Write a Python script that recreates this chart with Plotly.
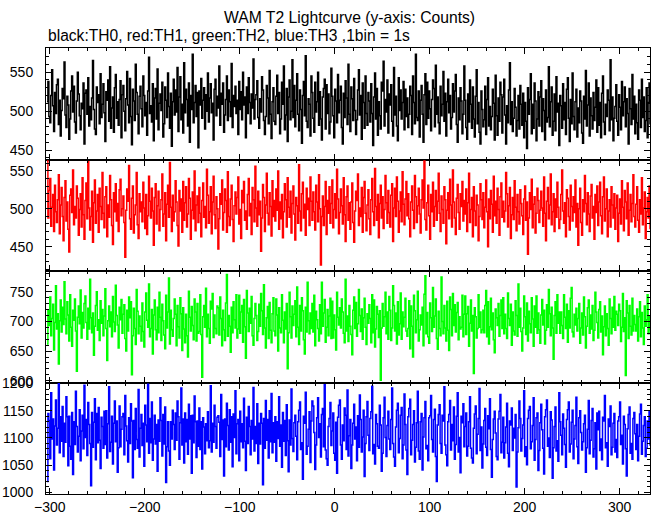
import plotly.graph_objects as go

# Bin start time (s) of the first bin; 1 bin = 1 s
time_start = -303

th0 = [512, 538, 493, 485, 520, 553, 507, 474, 524, 497, 534, 541, 483, 514, 468, 501, 529, 516, 563, 495,
       479, 519, 508, 464, 490, 526, 545, 499, 532, 486, 472, 513, 550, 522, 494, 476, 510, 503, 536, 458,
       523, 527, 496, 543, 481, 506, 489, 517, 565, 502, 477, 470, 531, 511, 521, 484, 548, 492, 509, 535,
       498, 461, 525, 514, 540, 487, 557, 478, 504, 518, 473, 530, 547, 491, 512, 482, 515, 539, 466, 521,
       533, 500, 475, 516, 551, 508, 485, 542, 493, 457, 528, 513, 488, 560, 524, 496, 471, 519, 532, 503,
       480, 545, 520, 494, 511, 469, 526, 569, 497, 507, 486, 535, 462, 517, 529, 490, 554, 476, 510, 522,
       501, 537, 467, 484, 531, 514, 492, 549, 506, 478, 523, 455, 512, 541, 495, 527, 499, 556, 474, 518,
       544, 489, 509, 472, 562, 498, 528, 515, 481, 536, 460, 520, 502, 573, 485, 511, 533, 493, 524, 453,
       526, 508, 542, 491, 514, 530, 477, 521, 500, 549, 486, 517, 535, 498, 510, 463, 528, 541, 494, 519,
       504, 558, 482, 523, 509, 536, 473, 495, 515, 545, 488, 527, 512, 493, 561, 479, 520, 506, 532, 497,
       514, 470, 538, 502, 525, 489, 550, 508, 518, 466, 531, 497, 543, 511, 484, 522, 504, 567, 490, 515,
       521, 539, 492, 478, 516, 499, 544, 527, 488, 470, 493, 533, 517, 484, 552, 496, 465, 512, 530, 487,
       483, 519, 546, 497, 524, 471, 490, 537, 509, 558, 476, 495, 529, 461, 518, 540, 489, 500, 566, 492,
       533, 480, 514, 548, 496, 475, 527, 502, 459, 520, 538, 494, 571, 487, 479, 516, 509, 468, 545, 524,
       491, 473, 537, 499, 512, 550, 482, 525, 490, 463, 518, 529, 541, 477, 534, 497, 522, 471, 486, 555,
       519, 494, 466, 528, 513, 485, 547, 498, 514, 532, 479, 458, 523, 492, 539, 517, 483, 560, 496, 474,
       531, 516, 488, 542, 501, 470, 489, 527, 553, 495, 520, 464, 536, 511, 478, 545, 497, 482, 524, 513,
       486, 535, 497, 456, 518, 549, 490, 529, 469, 512, 494, 477, 537, 526, 564, 481, 515, 499, 540, 472,
       522, 508, 534, 487, 468, 556, 495, 519, 481, 462, 543, 501, 527, 490, 511, 538, 476, 528, 493, 517,
       479, 496, 532, 520, 470, 545, 511, 484, 573, 492, 488, 526, 467, 514, 533, 496, 460, 521, 548, 483,
       537, 491, 526, 503, 475, 515, 540, 529, 480, 559, 496, 518, 485, 471, 532, 494, 509, 551, 487, 523,
       468, 512, 541, 498, 520, 477, 492, 535, 499, 526, 547, 483, 460, 517, 489, 530, 513, 471, 496, 558,
       514, 479, 464, 522, 486, 540, 509, 478, 531, 490, 467, 519, 553, 484, 511, 473, 458, 526, 502, 480,
       489, 532, 470, 515, 543, 481, 506, 476, 493, 528, 510, 463, 546, 494, 469, 517, 487, 537, 521, 472,
       518, 541, 495, 458, 507, 485, 527, 562, 483, 512, 474, 491, 529, 505, 468, 488, 520, 477, 533, 509,
       482, 523, 466, 511, 487, 452, 530, 496, 515, 548, 471, 509, 478, 536, 513, 462, 490, 525, 481, 518,
       539, 474, 516, 501, 463, 527, 486, 492, 557, 480, 512, 531, 469, 487, 522, 475, 544, 499, 510, 456,
       520, 507, 478, 535, 489, 511, 470, 528, 543, 491, 461, 515, 484, 549, 493, 476, 512, 528, 467, 504,
       485, 526, 513, 472, 459, 519, 490, 552, 481, 508, 536, 468, 517, 494, 477, 524, 488, 505, 540, 473,
       530, 482, 511, 466, 523, 545, 486, 470, 509, 493, 527, 514, 475, 566, 489, 518, 462, 491, 506, 534,
       487, 469, 521, 505, 476, 538, 494, 512, 531, 480, 516, 497, 458, 529, 503, 483, 547, 490, 519, 471,
       509, 485, 464, 527, 514, 479, 541, 492, 518, 474, 488, 530, 466, 511, 536, 484, 502, 469, 477, 521]

th1 = [563, 488, 524, 540, 477, 502, 519, 470, 531, 496, 482, 512, 545, 467, 505, 528, 490, 458, 515, 537,
       484, 509, 473, 443, 518, 526, 495, 551, 479, 503, 488, 530, 514, 465, 499, 520, 476, 541, 492, 460,
       511, 534, 487, 562, 501, 472, 490, 523, 456, 508, 538, 481, 497, 519, 469, 527, 503, 486, 548, 494,
       475, 516, 529, 463, 505, 489, 544, 512, 478, 453, 521, 496, 533, 484, 507, 470, 525, 539, 491, 500,
       517, 482, 436, 498, 526, 510, 557, 487, 473, 514, 530, 468, 492, 505, 548, 479, 461, 520, 496, 509,
       483, 535, 501, 474, 519, 466, 491, 543, 510, 488, 527, 497, 452, 515, 533, 480, 504, 523, 471, 499,
       512, 546, 477, 493, 521, 458, 506, 531, 489, 561, 502, 470, 518, 484, 496, 537, 509, 478, 451, 524,
       497, 513, 469, 536, 485, 508, 529, 476, 493, 540, 514, 460, 498, 522, 487, 550, 471, 505, 517, 482,
       528, 494, 463, 511, 534, 489, 503, 475, 552, 518, 481, 496, 529, 467, 509, 543, 492, 474, 516, 500,
       447, 487, 520, 506, 538, 472, 495, 526, 511, 469, 549, 490, 478, 513, 531, 486, 457, 504, 522, 493,
       515, 542, 480, 499, 461, 524, 508, 536, 485, 497, 473, 519, 540, 491, 507, 466, 528, 512, 483, 556,
       501, 477, 523, 492, 510, 444, 488, 532, 515, 470, 505, 547, 494, 479, 521, 503, 464, 537, 490, 511,
       484, 526, 498, 550, 473, 509, 487, 519, 462, 496, 533, 512, 476, 541, 502, 489, 523, 468, 507, 530,
       493, 459, 515, 504, 481, 558, 497, 471, 520, 535, 488, 506, 465, 527, 499, 514, 478, 542, 510, 485,
       522, 496, 472, 531, 509, 483, 545, 500, 426, 490, 517, 478, 503, 536, 466, 511, 494, 529, 481, 507,
       538, 475, 499, 520, 488, 552, 513, 467, 495, 526, 504, 480, 541, 492, 457, 516, 530, 485, 508, 473,
       509, 534, 482, 456, 497, 523, 511, 546, 478, 501, 490, 528, 469, 515, 536, 494, 471, 505, 525, 487,
       466, 512, 540, 496, 478, 553, 503, 485, 519, 462, 507, 531, 488, 516, 474, 499, 544, 508, 481, 524,
       495, 476, 518, 533, 457, 501, 527, 490, 542, 510, 469, 497, 522, 483, 549, 506, 479, 513, 536, 491,
       520, 487, 463, 509, 530, 498, 474, 544, 516, 482, 504, 527, 493, 468, 512, 538, 501, 563, 486, 472,
       508, 531, 491, 460, 519, 496, 535, 477, 503, 524, 485, 510, 547, 494, 470, 517, 499, 481, 529, 512,
       454, 498, 521, 487, 539, 505, 476, 551, 509, 488, 466, 514, 532, 495, 473, 520, 503, 536, 484, 511,
       493, 526, 470, 508, 547, 482, 499, 515, 463, 529, 497, 478, 518, 505, 458, 490, 533, 512, 486, 521,
       475, 502, 538, 496, 450, 513, 487, 524, 506, 469, 543, 491, 510, 481, 527, 499, 465, 516, 534, 489,
       510, 483, 497, 548, 520, 476, 504, 528, 461, 492, 515, 486, 537, 502, 471, 519, 496, 480, 525, 507,
       491, 466, 513, 530, 485, 509, 440, 488, 521, 499, 539, 475, 506, 516, 468, 494, 527, 511, 482, 498,
       523, 501, 477, 542, 494, 458, 510, 528, 487, 505, 546, 479, 496, 520, 470, 513, 489, 535, 502, 474,
       486, 519, 551, 497, 481, 508, 463, 525, 514, 490, 472, 531, 503, 484, 516, 495, 538, 476, 507, 452,
       500, 527, 482, 465, 512, 496, 544, 507, 479, 521, 493, 470, 517, 532, 488, 503, 460, 519, 495, 530,
       478, 509, 535, 491, 467, 516, 542, 484, 500, 526, 463, 497, 512, 476, 529, 505, 488, 520, 473, 501,
       518, 457, 494, 513, 480, 537, 502, 471, 524, 509, 487, 534, 465, 498, 519, 483, 507, 545, 490, 476,
       506, 529, 485, 469, 512, 493, 541, 479, 501, 522, 461, 496, 515, 488, 530, 474, 508, 491, 519, 484]

th2 = [662, 718, 693, 741, 676, 705, 729, 652, 698, 760, 687, 713, 628, 701, 736, 682, 724, 695, 767, 704,
       679, 733, 711, 667, 745, 690, 658, 719, 702, 738, 684, 616, 707, 726, 696, 753, 672, 715, 689, 730,
       743, 698, 670, 722, 687, 771, 706, 681, 714, 643, 692, 727, 750, 685, 703, 668, 735, 697, 720, 676,
       709, 755, 688, 634, 701, 726, 691, 716, 674, 742, 699, 683, 761, 710, 694, 655, 724, 703, 737, 680,
       712, 728, 671, 650, 719, 684, 741, 706, 733, 610, 676, 722, 688, 661, 754, 717, 679, 709, 692, 667,
       731, 683, 657, 716, 748, 702, 690, 763, 674, 688, 720, 645, 711, 736, 686, 669, 724, 681, 749, 707,
       668, 729, 701, 677, 654, 744, 689, 716, 773, 662, 719, 686, 675, 705, 738, 712, 659, 727, 691, 672,
       740, 713, 651, 723, 687, 664, 712, 676, 640, 751, 707, 684, 725, 693, 669, 738, 716, 667, 730, 680,
       683, 745, 678, 606, 708, 727, 690, 756, 674, 712, 688, 663, 734, 721, 747, 673, 711, 688, 679, 726,
       723, 677, 741, 705, 659, 719, 686, 668, 731, 779, 675, 710, 692, 648, 724, 681, 733, 703, 689, 745,
       672, 687, 744, 680, 716, 727, 665, 737, 691, 638, 752, 714, 683, 722, 697, 742, 676, 660, 705, 730,
       710, 668, 683, 729, 692, 747, 718, 678, 762, 689, 655, 706, 725, 671, 732, 685, 664, 713, 740, 684,
       676, 738, 711, 650, 723, 689, 681, 745, 702, 664, 716, 687, 730, 620, 681, 749, 708, 672, 726, 693,
       712, 735, 674, 758, 690, 661, 727, 684, 740, 718, 669, 645, 724, 682, 766, 701, 679, 714, 688, 730,
       682, 744, 659, 717, 703, 688, 667, 728, 679, 766, 692, 714, 737, 665, 690, 720, 676, 709, 739, 671,
       734, 672, 711, 686, 652, 749, 707, 694, 723, 689, 738, 716, 680, 664, 771, 684, 709, 666, 727, 692,
       678, 644, 719, 741, 688, 732, 675, 696, 754, 710, 683, 721, 670, 706, 739, 690, 661, 713, 697, 728,
       705, 664, 745, 681, 736, 657, 687, 725, 712, 673, 718, 601, 689, 730, 692, 708, 749, 679, 716, 670,
       742, 719, 668, 689, 760, 727, 684, 714, 662, 733, 677, 696, 748, 670, 716, 691, 707, 739, 684, 675,
       688, 735, 654, 726, 692, 640, 744, 718, 681, 703, 751, 667, 686, 711, 694, 724, 659, 746, 777, 679,
       715, 674, 663, 731, 706, 683, 757, 690, 709, 738, 671, 653, 717, 688, 676, 775, 700, 679, 727, 689,
       667, 734, 685, 651, 741, 720, 676, 747, 693, 728, 682, 715, 732, 669, 708, 687, 690, 744, 674, 712,
       743, 678, 713, 725, 658, 697, 736, 684, 710, 612, 723, 708, 672, 688, 745, 690, 716, 681, 686, 719,
       681, 727, 752, 674, 733, 662, 691, 739, 686, 714, 669, 647, 721, 706, 693, 730, 675, 710, 736, 688,
       740, 679, 712, 688, 671, 748, 705, 693, 729, 660, 716, 684, 677, 735, 710, 675, 763, 690, 722, 683,
       650, 689, 743, 708, 678, 731, 667, 717, 696, 681, 740, 704, 658, 726, 690, 743, 680, 714, 686, 663,
       711, 737, 694, 719, 662, 685, 728, 690, 754, 713, 676, 724, 689, 636, 710, 733, 680, 745, 697, 716,
       680, 716, 693, 671, 745, 707, 688, 729, 665, 718, 689, 739, 757, 682, 674, 712, 694, 722, 684, 705,
       730, 663, 689, 714, 677, 741, 708, 655, 692, 723, 736, 680, 711, 687, 727, 668, 685, 749, 716, 698,
       672, 720, 733, 682, 709, 644, 691, 726, 676, 713, 688, 660, 738, 705, 679, 724, 690, 742, 685, 717,
       712, 693, 729, 718, 666, 690, 747, 683, 706, 609, 735, 714, 671, 727, 692, 677, 739, 684, 710, 695,
       684, 721, 667, 708, 733, 674, 715, 689, 661, 726, 692, 703, 745, 679, 708, 686, 720, 690, 783, 709]

th3 = [1020, 1145, 1132, 1062, 1183, 1098, 1135, 1041, 1122, 1170, 1087, 1118, 1200, 1073, 1139, 1094, 1158, 1066, 1127, 1092,
       1176, 1139, 1049, 1140, 1085, 1061, 1147, 1033, 1130, 1088, 1186, 1121, 1074, 1103, 1152, 1058, 1113, 1142, 1080, 1197,
       1101, 1134, 1068, 1165, 1125, 1090, 1012, 1147, 1083, 1129, 1172, 1060, 1145, 1091, 1156, 1096, 1044, 1138, 1121, 1081,
       1149, 1088, 1150, 1063, 1126, 1194, 1075, 1092, 1140, 1052, 1127, 1168, 1093, 1131, 1037, 1082, 1159, 1084, 1116, 1139,
       1145, 1069, 1178, 1122, 1095, 1056, 1137, 1090, 1163, 1131, 1027, 1132, 1079, 1154, 1097, 1081, 1189, 1065, 1118, 1143,
       1086, 1127, 1048, 1160, 1124, 1093, 1199, 1072, 1136, 1091, 1166, 1059, 1098, 1142, 1089, 1125, 1039, 1133, 1094, 1174,
       1132, 1067, 1143, 1089, 1157, 1018, 1084, 1130, 1076, 1050, 1130, 1098, 1151, 1125, 1079, 1146, 1096, 1168, 1139, 1061,
       1128, 1192, 1087, 1135, 1054, 1146, 1093, 1134, 1070, 1162, 1098, 1141, 1035, 1142, 1091, 1177, 1130, 1064, 1131, 1085,
       1155, 1079, 1130, 1043, 1137, 1120, 1071, 1126, 1095, 1148, 1082, 1095, 1196, 1074, 1127, 1092, 1160, 1121, 1081, 1138,
       1141, 1129, 1066, 1180, 1097, 1133, 1030, 1135, 1084, 1164, 1123, 1078, 1152, 1092, 1139, 1047, 1144, 1101, 1187, 1071,
       1126, 1134, 1058, 1149, 1093, 1126, 1082, 1173, 1094, 1040, 1138, 1090, 1158, 1121, 1069, 1132, 1098, 1193, 1076, 1121,
       1090, 1163, 1053, 1127, 1089, 1145, 1127, 1014, 1136, 1081, 1169, 1096, 1134, 1063, 1150, 1093, 1182, 1073, 1128, 1092,
       1139, 1057, 1130, 1099, 1176, 1085, 1124, 1046, 1147, 1094, 1132, 1068, 1161, 1095, 1038, 1133, 1087, 1190, 1099, 1075,
       1128, 1142, 1103, 1060, 1130, 1151, 1166, 1079, 1091, 1024, 1140, 1127, 1184, 1070, 1085, 1116, 1148, 1055, 1131, 1168,
       1159, 1110, 1042, 1087, 1137, 1174, 1101, 1126, 1065, 1143, 1154, 1084, 1198, 1078, 1062, 1050, 1121, 1136, 1165, 1086,
       1113, 1146, 1072, 1059, 1129, 1035, 1138, 1160, 1170, 1087, 1061, 1124, 1095, 1155, 1142, 1079, 1188, 1067, 1104, 1134,
       1044, 1087, 1127, 1162, 1098, 1120, 1058, 1141, 1083, 1179, 1134, 1074, 1102, 1151, 1029, 1090, 1139, 1167, 1105, 1077,
       1136, 1148, 1195, 1071, 1088, 1052, 1143, 1126, 1085, 1081, 1160, 1124, 1039, 1072, 1137, 1175, 1101, 1066, 1123, 1149,
       1098, 1079, 1134, 1192, 1090, 1065, 1048, 1120, 1151, 1164, 1073, 1099, 1142, 1156, 1062, 1087, 1181, 1125, 1078, 1033,
       1139, 1154, 1171, 1069, 1096, 1125, 1150, 1056, 1083, 1128, 1186, 1076, 1061, 1130, 1145, 1041, 1102, 1137, 1167, 1080,
       1086, 1058, 1137, 1141, 1178, 1097, 1074, 1134, 1153, 1066, 1020, 1124, 1143, 1161, 1090, 1072, 1142, 1131, 1194, 1087,
       1069, 1049, 1130, 1143, 1169, 1078, 1125, 1095, 1157, 1061, 1088, 1140, 1183, 1074, 1101, 1036, 1140, 1128, 1163, 1084,
       1121, 1146, 1067, 1085, 1130, 1176, 1081, 1063, 1054, 1118, 1144, 1159, 1071, 1107, 1136, 1191, 1077, 1120, 1045, 1089,
       1132, 1154, 1083, 1068, 1141, 1117, 1172, 1079, 1028, 1097, 1135, 1149, 1109, 1066, 1060, 1135, 1149, 1180, 1073, 1092,
       1138, 1063, 1091, 1120, 1164, 1072, 1047, 1131, 1124, 1155, 1077, 1118, 1100, 1143, 1010, 1074, 1119, 1168, 1136, 1076,
       1099, 1124, 1187, 1066, 1084, 1051, 1136, 1151, 1158, 1080, 1093, 1123, 1174, 1059, 1097, 1137, 1146, 1040, 1077, 1128,
       1162, 1115, 1081, 1034, 1139, 1152, 1170, 1085, 1100, 1064, 1148, 1133, 1026, 1082, 1121, 1157, 1076, 1095, 1057, 1183,
       1130, 1105, 1069, 1144, 1118, 1088, 1046, 1134, 1152, 1166, 1074, 1089, 1129, 1151, 1062, 1098, 1123, 1175, 1084, 1053,
       1137, 1150, 1110, 1078, 1093, 1126, 1142, 1037, 1082, 1116, 1169, 1071, 1096, 1132, 1154, 1065, 1080, 1128, 1043, 1146,
       1115, 1149, 1077, 1098, 1060, 1138, 1131, 1178, 1082, 1091, 1048, 1135, 1121, 1159, 1069, 1083, 1127, 1145, 1074, 1097,
       1064, 1131, 1139, 1166, 1088, 1105, 1052, 1140, 1125, 1080, 1030, 1117, 1143, 1157, 1072, 1090, 1061, 1136, 1147, 1108,
       1079, 1125, 1058, 1103, 1144, 1162, 1070, 1094, 1123, 1139, 1066, 1081, 1131, 1098, 1150, 1087, 1112, 1148, 1075, 1119]

x_range = [-304, 332]
x_ticks = [-300, -200, -100, 0, 100, 200, 300]
panel_names = ["TH0", "TH1", "TH2", "TH3"]
panel_colors = ["#000000", "#ff0000", "#00ff00", "#0000ff"]
panel_ranges = [[438, 581], [418, 565], [597, 785], [997, 1202]]
panel_ticks = [[450, 500, 550], [450, 500, 550], [600, 650, 700, 750],
               [1000, 1050, 1100, 1150, 1200]]
panel_data = [th0, th1, th2, th3]

FONT = "Liberation Sans, Arial, Helvetica, sans-serif"

fig = go.Figure()
layout = {}
n = 4
for i in range(n):
    vals = panel_data[i]
    xs = [time_start + k for k in range(len(vals))]
    suffix = "" if i == 0 else str(i + 1)
    fig.add_trace(go.Scatter(
        x=xs, y=vals, mode="lines", name=panel_names[i],
        line=dict(color=panel_colors[i], width=1.5, shape="hv"),
        xaxis="x" + suffix, yaxis="y" + suffix, showlegend=False,
        hoverinfo="skip",
    ))
    top = 1 - i / n
    bottom = 1 - (i + 1) / n
    layout["xaxis" + suffix] = dict(
        domain=[0, 1], range=x_range, anchor="y" + suffix, automargin=False,
        tickvals=x_ticks, ticks="inside", ticklen=6, tickwidth=1, tickcolor="black",
        minor=dict(ticks="inside", dtick=20, tick0=0, ticklen=3, tickwidth=1, tickcolor="black"),
        showline=True, linecolor="black", linewidth=1, mirror="allticks",
        showgrid=False, zeroline=False,
        showticklabels=(i == n - 1),
        tickfont=dict(family=FONT, size=14, color="black"),
        ticklabelstandoff=0,
    )
    layout["yaxis" + suffix] = dict(
        domain=[bottom, top], range=panel_ranges[i], anchor="x" + suffix, automargin=False,
        tickvals=panel_ticks[i], ticks="inside", ticklen=6, tickwidth=1, tickcolor="black",
        minor=dict(ticks="inside", dtick=10, tick0=0, ticklen=3, tickwidth=1, tickcolor="black"),
        showline=True, linecolor="black", linewidth=1, mirror="allticks",
        showgrid=False, zeroline=False,
        tickfont=dict(family=FONT, size=14, color="black"),
        ticklabelstandoff=9,
    )

fig.update_layout(
    width=652, height=515,
    margin=dict(l=46, r=2, t=48, b=21, autoexpand=False),
    paper_bgcolor="white", plot_bgcolor="white",
    font=dict(family=FONT, size=14, color="black"),
    annotations=[
        dict(text="WAM T2 Lightcurve (y-axis: Counts)", xref="paper", yref="paper",
             x=0.503, y=1.0695, xanchor="center", yanchor="middle", showarrow=False,
             font=dict(family=FONT, size=15.7, color="black")),
        dict(text="black:TH0, red:TH1, green:TH2, blue:TH3 ,1bin = 1s", xref="paper", yref="paper",
             x=0, y=1.029, xanchor="left", yanchor="middle", showarrow=False,
             font=dict(family=FONT, size=15.6, color="black")),
    ],
    **layout,
)

# Remove the default page margin so the figure fills the 652x515 window exactly.
fig.write_html("out.html", config={"displayModeBar": False},
               post_script="document.body.style.margin='0';")
